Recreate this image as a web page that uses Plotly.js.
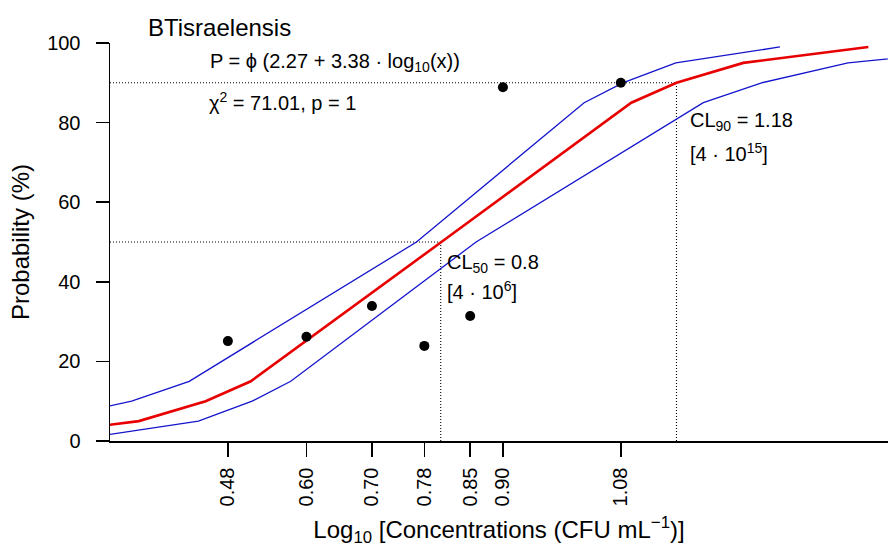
<!DOCTYPE html>
<html>
<head>
<meta charset="utf-8">
<script src="https://cdn.plot.ly/plotly-3.0.1.min.js"></script>
<style>
  html, body { margin: 0; padding: 0; background: #ffffff; }
  #chart { width: 888px; height: 547px; }
</style>
</head>
<body>
<div id="chart"></div>
<script>
// ---- data ----
const tickValues = [0.48, 0.60, 0.70, 0.78, 0.85, 0.90, 1.08];
const tickLabels = ['0.48', '0.60', '0.70', '0.78', '0.85', '0.90', '1.08'];

// observed mortality (%) at each log10 concentration
const doseLog = [0.48, 0.60, 0.70, 0.78, 0.85, 0.90, 1.08];
const observedPct = [25.1, 26.2, 33.9, 23.9, 31.4, 88.9, 90.0];

// probability levels (%) at which the fitted curve and the limits are drawn
const probLevels = [1, 5, 10, 15, 50, 85, 90, 95, 99];
const fitX = [0.153, 0.344, 0.446, 0.515, 0.806, 1.096, 1.165, 1.267, 1.458];
const leftLimitX = [0.000, 0.193, 0.333, 0.421, 0.768, 1.024, 1.083, 1.164, 1.323];
const rightLimitX = [0.272, 0.435, 0.517, 0.576, 0.859, 1.206, 1.295, 1.427, 1.663];

// lethal concentration markers
const cl50 = 0.805, cl50Level = 50;
const cl90 = 1.165, cl90Level = 90;

const xMin = 0.30, xMax = 1.488;

const FONT = 'Liberation Sans, Arial, Helvetica, sans-serif';
const dotLine = { color: '#000000', width: 1.1, dash: '1px,2px' };

const traces = [
  { x: [xMin, cl50], y: [cl50Level, cl50Level], mode: 'lines', line: dotLine, hoverinfo: 'skip' },
  { x: [cl50, cl50], y: [0, cl50Level], mode: 'lines', line: dotLine, hoverinfo: 'skip' },
  { x: [xMin, cl90], y: [cl90Level, cl90Level], mode: 'lines', line: dotLine, hoverinfo: 'skip' },
  { x: [cl90, cl90], y: [0, cl90Level], mode: 'lines', line: dotLine, hoverinfo: 'skip' },
  { x: leftLimitX, y: probLevels, mode: 'lines', line: { color: '#1414cc', width: 1.3 } },
  { x: rightLimitX, y: probLevels, mode: 'lines', line: { color: '#1414cc', width: 1.3 } },
  { x: fitX, y: probLevels, mode: 'lines', line: { color: '#e80000', width: 2.6 } },
  { x: doseLog, y: observedPct, mode: 'markers', marker: { color: '#000000', size: 10 } }
];

const layout = {
  width: 888, height: 547,
  margin: { l: 110, r: 0, t: 43, b: 106, pad: 0 },
  paper_bgcolor: '#ffffff', plot_bgcolor: '#ffffff',
  showlegend: false,
  font: { family: FONT, color: '#000000', size: 20 },
  xaxis: {
    range: [xMin, xMax],
    tickmode: 'array', tickvals: tickValues, ticktext: tickLabels,
    tickangle: -90,
    ticks: 'outside', ticklen: 14, tickwidth: 1.5, tickcolor: '#000000',
    ticklabelstandoff: 3,
    tickfont: { family: FONT, size: 20, color: '#000000' },
    showline: true, linecolor: '#000000', linewidth: 1.5,
    showgrid: false, zeroline: false,
    title: { text: 'Log<sub>10</sub> [Concentrations (CFU mL<sup>\u22121</sup>)]', font: { family: FONT, size: 24, color: '#000000' }, standoff: 22 }
  },
  yaxis: {
    range: [0, 100],
    tickmode: 'array', tickvals: [0, 20, 40, 60, 80, 100],
    ticks: 'outside', ticklen: 13, tickwidth: 1.5, tickcolor: '#000000',
    ticklabelstandoff: 11,
    tickfont: { family: FONT, size: 20, color: '#000000' },
    showline: true, linecolor: '#000000', linewidth: 1.5,
    showgrid: false, zeroline: false,
    title: { text: 'Probability (%)', font: { family: FONT, size: 24, color: '#000000' }, standoff: 10 }
  },
  annotations: [
    { xref: 'paper', yref: 'paper', x: 0.0462, y: 1.0377, xanchor: 'left', yanchor: 'middle', showarrow: false,
      text: 'BTisraelensis', font: { family: FONT, size: 24, color: '#000000' } },
    { xref: 'x', yref: 'y', x: 0.449, y: 95.0, xanchor: 'left', yanchor: 'middle', showarrow: false,
      text: 'P = \u03d5 (2.27 + 3.38 \u00b7 log<sub>10</sub>(x))', font: { family: FONT, size: 20, color: '#000000' } },
    { xref: 'x', yref: 'y', x: 0.448, y: 85.2, xanchor: 'left', yanchor: 'middle', showarrow: false,
      text: '\u03c7<sup>2</sup> = 71.01, p = 1', font: { family: FONT, size: 20, color: '#000000' } },
    { xref: 'x', yref: 'y', x: 0.812, y: 44.7, xanchor: 'left', yanchor: 'middle', showarrow: false,
      text: 'CL<sub>50</sub> = 0.8', font: { family: FONT, size: 20, color: '#000000' } },
    { xref: 'x', yref: 'y', x: 0.812, y: 37.7, xanchor: 'left', yanchor: 'middle', showarrow: false,
      text: '[4 \u00b7 10<sup>6</sup>]', font: { family: FONT, size: 20, color: '#000000' } },
    { xref: 'x', yref: 'y', x: 1.182, y: 80.4, xanchor: 'left', yanchor: 'middle', showarrow: false,
      text: 'CL<sub>90</sub> = 1.18', font: { family: FONT, size: 20, color: '#000000' } },
    { xref: 'x', yref: 'y', x: 1.182, y: 72.6, xanchor: 'left', yanchor: 'middle', showarrow: false,
      text: '[4 \u00b7 10<sup>15</sup>]', font: { family: FONT, size: 20, color: '#000000' } }
  ]
};

Plotly.newPlot('chart', traces, layout, { staticPlot: true, displayModeBar: false });
</script>
</body>
</html>
